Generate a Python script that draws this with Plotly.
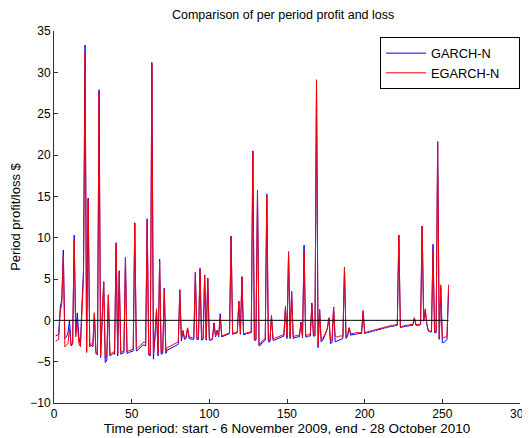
import plotly.graph_objects as go

periods = list(range(1, 255))

garch_n = [
    -1.9, -1.8, -1.7, 1.5, 2.5, 8.5, -2.2, -2.0, -1.5, 0.0,
    -3.0, -2.8, 10.3, -1.5, 0.9, -2.0, -3.0, 2.0, 6.1, 33.3,
    -3.8, 14.8, -3.2, -3.0, -3.2, 0.9, -4.0, -4.2, 27.9, -4.5,
    1.0, 4.6, -5.1, -4.8, 3.0, -4.3, -4.2, -4.0, -4.1, 9.4,
    -4.3, 6.0, -4.1, -4.0, -3.9, 7.6, -4.0, -3.9, -3.8, -3.8,
    -3.7, 11.8, -3.7, -3.6, -3.4, -3.2, -3.0, -3.0, -3.1, 12.3,
    -4.2, -4.3, 31.2, -4.7, -2.1, 1.2, -4.3, 7.4, -4.1, -4.0,
    3.9, -4.0, -3.6, -3.5, -3.4, -3.3, -3.2, -3.1, -3.0, -2.9,
    3.7, -2.5, -1.3, -2.3, -2.2, -1.0, -2.2, -2.3, -2.3, -2.3,
    5.8, -2.3, -2.3, 6.3, -2.4, -2.3, 5.5, -2.4, 5.1, -2.4,
    -2.4, -2.3, -0.3, -2.0, -1.2, -2.0, 0.8, -2.0, -1.9, -1.8,
    -1.7, -1.6, -1.6, 10.2, -1.7, -1.6, -1.6, -1.5, 2.3, -1.7,
    5.3, -1.7, -1.7, -1.6, -1.6, -1.5, -1.5, 20.5, -2.4, -2.4,
    15.7, -3.1, -3.0, -2.7, -2.6, -2.4, 15.3, -2.6, -2.6, 0.5,
    -2.4, -2.4, -2.3, -2.2, -2.1, -2.0, -1.9, -1.9, 1.6, -2.2,
    8.3, -2.2, 3.5, -2.2, -2.1, -2.0, -2.0, -2.0, -0.2, -2.1,
    9.1, -2.0, -2.0, -1.9, -1.9, 2.1, -1.9, -1.9, 29.1, -3.3,
    1.3, -2.6, -2.4, -2.0, -1.6, -1.0, 0.3, -2.8, -2.7, 1.6,
    -2.6, -2.5, -2.4, -2.3, -2.2, -2.2, 6.4, -2.2, -1.9, -0.9,
    -1.8, -1.7, -1.7, -1.7, -1.6, -1.6, -1.6, -1.6, 1.1, -1.6,
    -1.5, -1.5, -1.4, -1.4, -1.3, -1.3, -1.2, -1.2, -1.1, -1.1,
    -1.0, -1.0, -0.9, -0.9, -0.8, -0.8, -0.7, -0.7, -0.7, -0.6,
    -0.6, 10.3, -0.9, -0.8, -0.8, -0.7, -0.7, -0.7, -0.6, -0.6,
    -0.6, 0.3, -0.6, -0.6, -0.6, -0.5, 11.4, -0.1, 1.2, -0.5,
    -1.3, -1.4, -1.4, 9.2, -1.5, -1.5, 21.6, -2.3, 4.0, -2.7,
    -2.7, -2.5, -2.3, 3.5,
]

egarch_n = [
    -2.5, -2.4, -2.3, 1.0, 2.0, 7.8, -3.2, -3.0, -2.8, -1.0,
    -3.1, -2.9, 9.7, -2.0, 0.0, -2.8, -3.2, 1.0, 5.2, 32.4,
    -3.9, 14.6, -3.0, -2.8, -3.0, 0.9, -3.8, -4.0, 27.6, -4.3,
    0.0, 4.7, -4.6, -4.4, 3.1, -4.1, -4.0, -3.8, -3.9, 9.2,
    -4.0, 5.9, -3.9, -3.8, -3.7, 7.5, -3.8, -3.7, -3.6, -3.5,
    -3.5, 11.7, -3.4, -3.3, -3.1, -2.9, -2.7, -2.6, -2.8, 12.2,
    -4.0, -4.1, 31.0, -4.1, -2.3, 1.4, -4.0, 7.2, -3.9, -3.8,
    3.8, -3.7, -3.3, -3.2, -3.1, -3.0, -2.9, -2.8, -2.7, -2.6,
    3.6, -2.2, -1.2, -2.1, -2.0, -0.9, -2.0, -2.1, -2.1, -2.1,
    5.7, -2.1, -2.1, 6.2, -2.2, -2.1, 5.4, -2.2, 5.0, -2.2,
    -2.3, -2.2, -0.4, -1.9, -1.2, -1.9, 0.4, -1.9, -1.8, -1.7,
    -1.6, -1.5, -1.5, 10.1, -1.6, -1.5, -1.5, -1.4, 2.3, -1.6,
    5.2, -1.6, -1.6, -1.5, -1.5, -1.4, -1.4, 20.3, -2.3, -2.3,
    15.5, -2.9, -2.8, -2.5, -2.4, -2.2, 15.1, -2.4, -2.4, 0.6,
    -2.2, -2.2, -2.1, -2.0, -1.9, -1.8, -1.7, -1.7, 1.7, -2.0,
    8.2, -2.0, 3.4, -2.0, -1.9, -1.8, -1.8, -1.8, -0.3, -2.0,
    8.4, -1.8, -1.8, -1.7, -1.7, 1.9, -1.7, -1.7, 29.0, -3.1,
    1.3, -2.4, -2.2, -1.8, -1.5, -0.9, 0.3, -2.5, -2.3, 1.6,
    -1.9, -2.0, -2.0, -1.9, -1.9, -1.9, 6.3, -2.0, -1.7, -0.9,
    -1.6, -1.6, -1.6, -1.5, -1.5, -1.5, -1.5, -1.5, 1.2, -1.5,
    -1.4, -1.4, -1.3, -1.3, -1.2, -1.2, -1.1, -1.1, -1.0, -1.0,
    -0.9, -0.9, -0.8, -0.8, -0.7, -0.7, -0.6, -0.6, -0.6, -0.5,
    -0.5, 10.3, -0.8, -0.7, -0.7, -0.6, -0.6, -0.6, -0.5, -0.5,
    -0.5, 0.3, -0.5, -0.5, -0.5, -0.4, 11.4, 0.0, 1.4, -0.4,
    -1.2, -1.3, -1.3, 8.5, -1.4, -1.4, 21.6, -2.2, 4.3, -2.1,
    -2.1, -2.0, -1.9, 4.3,
]

zero_level = [0.0, 0.0]
zero_span = [periods[0], periods[-1]]

x_ticks = [0, 50, 100, 150, 200, 250, 300]
y_ticks = [-10, -5, 0, 5, 10, 15, 20, 25, 30, 35]

FONT = "Liberation Sans, Arial, sans-serif"
PAD = "&nbsp;&nbsp;&nbsp;&nbsp;"

fig = go.Figure()
fig.add_trace(go.Scatter(x=periods, y=garch_n, mode="lines", name="GARCH-N" + PAD,
                         line=dict(color="rgb(0,0,255)", width=1)))
fig.add_trace(go.Scatter(x=periods, y=egarch_n, mode="lines", name="EGARCH-N" + PAD,
                         line=dict(color="rgb(255,0,0)", width=1)))
fig.add_trace(go.Scatter(x=zero_span, y=zero_level, mode="lines", showlegend=False,
                         line=dict(color="black", width=1), hoverinfo="skip"))

# page body has an 8px default margin, so the figure is sized/offset to compensate
fig.update_layout(
    width=522, height=430,
    margin=dict(l=46, r=10, t=23, b=35, autoexpand=False),
    paper_bgcolor="white", plot_bgcolor="white",
    font=dict(family=FONT, size=12, color="black"),
    title=dict(text="Comparison of per period profit and loss", x=0.527, xanchor="center",
               y=0.984, yanchor="middle", font=dict(size=12.5, family=FONT)),
    showlegend=True,
    legend=dict(x=1.0, xanchor="right", y=0.983, yanchor="top",
                bordercolor="black", borderwidth=1, bgcolor="white",
                font=dict(size=12.8, family=FONT), itemwidth=40,
                tracegroupgap=0),
)
fig.update_xaxes(range=[0, 300], tickvals=x_ticks, ticks="inside", ticklen=4,
                 tickcolor="#333", showline=True, linecolor="#333", linewidth=1,
                 showgrid=False, zeroline=False, mirror=False, automargin=False,
                 ticklabeloverflow="allow",
                 title=dict(text="Time period: start - 6 November 2009, end - 28 October 2010",
                            font=dict(size=13.5), standoff=0),
                 tickfont=dict(size=12))
fig.update_yaxes(range=[-10, 35], tickvals=y_ticks, ticks="inside", ticklen=4,
                 tickcolor="#333", showline=True, linecolor="#333", linewidth=1,
                 showgrid=False, zeroline=False, mirror=False, automargin=False,
                 ticklabeloverflow="allow",
                 title=dict(text="Period profit/loss $", font=dict(size=13), standoff=6),
                 tickfont=dict(size=12))

fig.write_html("out.html")
